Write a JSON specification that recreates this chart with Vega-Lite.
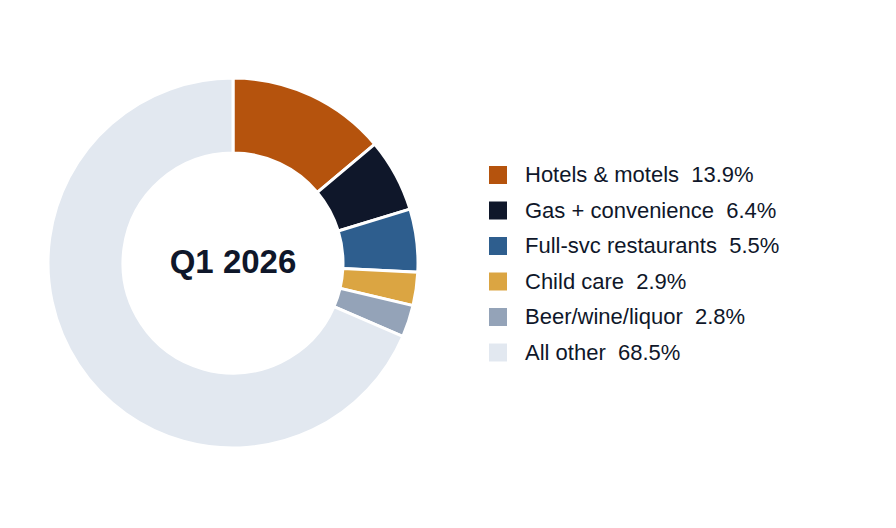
{
  "$schema": "https://vega.github.io/schema/vega-lite/v6.json",
  "width": 466,
  "height": 526,
  "padding": 0,
  "background": "white",
  "datasets": {
    "slices": [
      {"label": "Hotels & motels\u00a0 13.9%", "share": 13.9, "order": 1},
      {"label": "Gas + convenience\u00a0 6.4%", "share": 6.4, "order": 2},
      {"label": "Full-svc restaurants\u00a0 5.5%", "share": 5.5, "order": 3},
      {"label": "Child care\u00a0 2.9%", "share": 2.9, "order": 4},
      {"label": "Beer/wine/liquor\u00a0 2.8%", "share": 2.8, "order": 5},
      {"label": "All other\u00a0 68.5%", "share": 68.5, "order": 6}
    ],
    "center": [{"text": "Q1 2026"}]
  },
  "layer": [
    {
      "data": {"name": "slices"},
      "mark": {"type": "arc", "outerRadius": 185, "innerRadius": 110, "stroke": "white", "strokeWidth": 3},
      "encoding": {
        "theta": {"field": "share", "type": "quantitative", "stack": true},
        "order": {"field": "order", "type": "quantitative", "sort": "ascending"},
        "color": {
          "field": "label",
          "type": "nominal",
          "scale": {
            "domain": [
              "Hotels & motels\u00a0 13.9%",
              "Gas + convenience\u00a0 6.4%",
              "Full-svc restaurants\u00a0 5.5%",
              "Child care\u00a0 2.9%",
              "Beer/wine/liquor\u00a0 2.8%",
              "All other\u00a0 68.5%"
            ],
            "range": ["#B5530D", "#0F172A", "#2E5E8E", "#DBA542", "#94A3B8", "#E2E8F0"]
          },
          "legend": {
            "title": null,
            "orient": "none",
            "legendX": 487,
            "legendY": 164,
            "padding": 0,
            "symbolType": "square",
            "symbolSize": 324,
            "symbolStrokeWidth": 0,
            "labelFontSize": 22,
            "labelFont": "Liberation Sans",
            "labelColor": "#0F172A",
            "labelOffset": 16,
            "labelLimit": 400,
            "rowPadding": 13.5
          }
        }
      }
    },
    {
      "data": {"name": "center"},
      "mark": {"type": "text", "font": "Liberation Sans", "fontSize": 33, "fontWeight": "bold", "color": "#0F172A", "align": "center", "baseline": "middle"},
      "encoding": {"text": {"field": "text"}}
    }
  ],
  "config": {"view": {"stroke": null}}
}
